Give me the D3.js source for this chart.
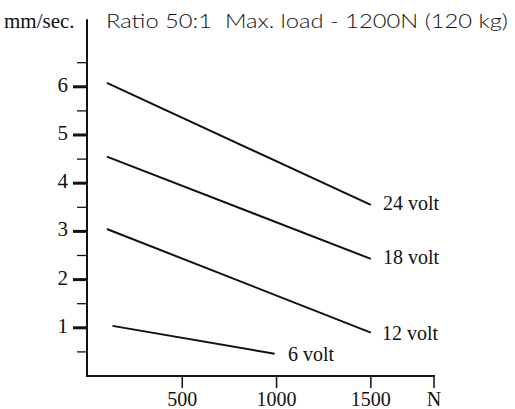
<!DOCTYPE html>
<html>
<head>
<meta charset="utf-8">
<script src="https://cdn.jsdelivr.net/npm/d3@7"></script>
<style>
  body { margin: 0; background: #fff; }
  .serif { font-family: "Liberation Serif", "DejaVu Serif", serif; fill: #111; }
  .title { font-family: Lato, "Noto Sans", sans-serif; font-weight: 300; fill: #111; }
</style>
</head>
<body>
<svg id="chart" width="515" height="409"></svg>
<script>
// data
const loads = [100, 1500];          // N
const speed24 = [6.08, 3.55];       // mm/sec
const speed18 = [4.55, 2.43];
const speed12 = [3.05, 0.9];
const loads6 = [130, 990];
const speed6 = [1.04, 0.46];
const seriesNames = ["24 volt", "18 volt", "12 volt", "6 volt"];
const yMajor = [1, 2, 3, 4, 5, 6];
const yMinor = [0.5, 1.5, 2.5, 3.5, 4.5, 5.5, 6.5];
const xTicks = [500, 1000, 1500];

const svg = d3.select("#chart");
const x = d3.scaleLinear().domain([0, 1835]).range([88, 434]);
const y = d3.scaleLinear().domain([0, 7.4]).range([376, 19.3]);

const series = [
  { name: seriesNames[0], xs: loads, ys: speed24, lx: 383, ly: 210 },
  { name: seriesNames[1], xs: loads, ys: speed18, lx: 383, ly: 264 },
  { name: seriesNames[2], xs: loads, ys: speed12, lx: 382, ly: 340 },
  { name: seriesNames[3], xs: loads6, ys: speed6, lx: 288, ly: 361 }
];

// y axis
const yAxis = svg.append("g").attr("transform", "translate(87,0)");
yAxis.append("line").attr("y1", y(7.4)).attr("y2", y(0) + 1)
  .attr("stroke", "#111").attr("stroke-width", 2);
yAxis.selectAll(".minor").data(yMinor).enter().append("line")
  .attr("x1", -10).attr("x2", 0).attr("y1", d => y(d)).attr("y2", d => y(d))
  .attr("stroke", "#111").attr("stroke-width", 1.3);
yAxis.selectAll(".major").data(yMajor).enter().append("line")
  .attr("x1", -14).attr("x2", 0).attr("y1", d => y(d)).attr("y2", d => y(d))
  .attr("stroke", "#111").attr("stroke-width", 3);
yAxis.selectAll(".lab").data(yMajor).enter().append("text")
  .attr("class", "serif").attr("x", -19).attr("y", d => y(d) + 5)
  .attr("text-anchor", "end").attr("font-size", 21).text(d => d);

// x axis
const xAxis = svg.append("g").attr("transform", "translate(0,376)");
xAxis.append("line").attr("x1", 86).attr("x2", x(1835) + 1)
  .attr("stroke", "#111").attr("stroke-width", 2);
xAxis.selectAll(".tk").data(xTicks.concat([1835])).enter().append("line")
  .attr("x1", d => x(d)).attr("x2", d => x(d)).attr("y1", 0).attr("y2", 12)
  .attr("stroke", "#111").attr("stroke-width", 1.5);
xAxis.selectAll(".lab").data(xTicks).enter().append("text")
  .attr("class", "serif").attr("x", d => x(d)).attr("y", 30)
  .attr("text-anchor", "middle").attr("font-size", 20).text(d => d);
xAxis.append("text").attr("class", "serif").attr("x", x(1835)).attr("y", 30)
  .attr("text-anchor", "middle").attr("font-size", 20).text("N");

// lines
const line = d3.line().x(d => x(d[0])).y(d => y(d[1]));
svg.selectAll(".series").data(series).enter().append("path")
  .attr("d", d => line(d.xs.map((v, i) => [v, d.ys[i]])))
  .attr("fill", "none").attr("stroke", "#111").attr("stroke-width", 2);
svg.selectAll(".slab").data(series).enter().append("text")
  .attr("class", "serif").attr("x", d => d.lx).attr("y", d => d.ly)
  .attr("font-size", 20).text(d => d.name);

// header texts
svg.append("text").attr("class", "serif").attr("x", 4).attr("y", 28)
  .attr("font-size", 21).text("mm/sec.");
svg.append("text").attr("class", "title").attr("x", 106).attr("y", 28)
  .attr("font-size", 20).attr("xml:space", "preserve")
  .attr("textLength", 402).attr("lengthAdjust", "spacingAndGlyphs")
  .text("Ratio 50:1  Max. load - 1200N (120 kg)");
</script>
</body>
</html>
